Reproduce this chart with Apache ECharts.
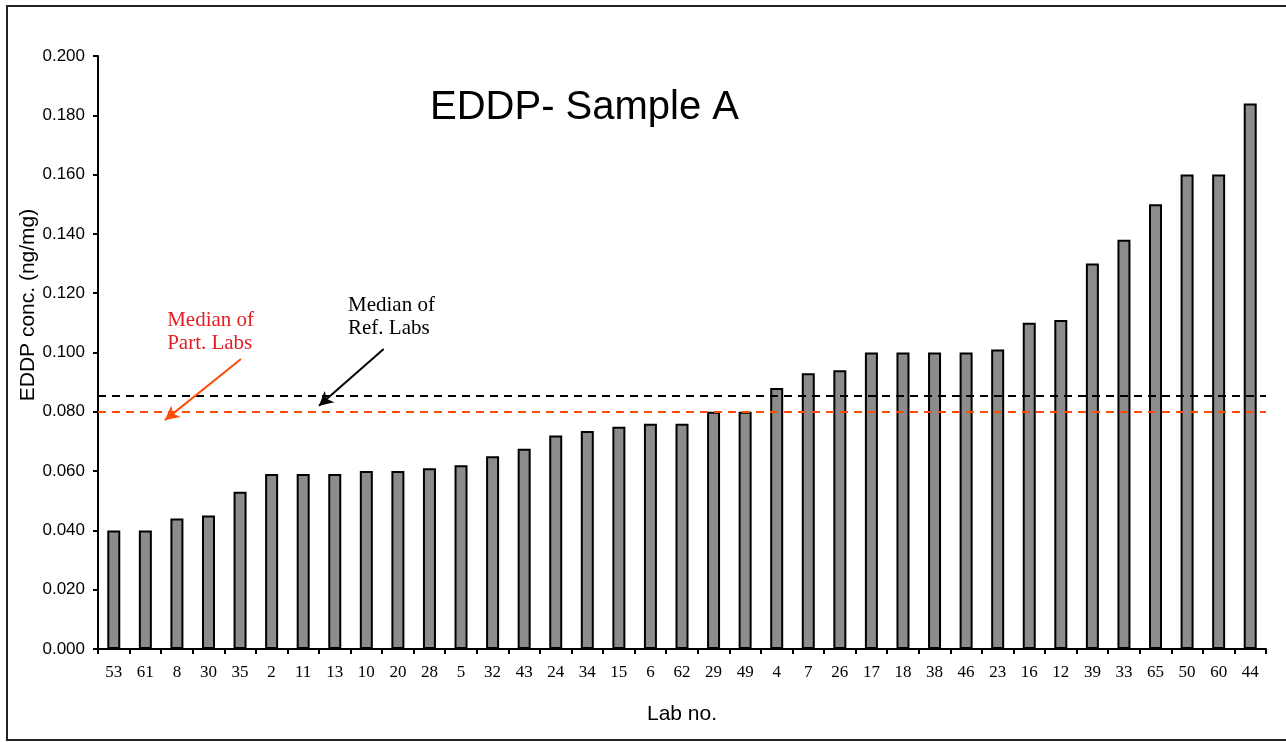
<!DOCTYPE html>
<html><head><meta charset="utf-8">
<script src="https://cdn.jsdelivr.net/npm/echarts@6/dist/echarts.min.js"></script>
<style>html,body{margin:0;padding:0;background:#fff}#c{width:1286px;height:742px}</style>
</head><body><div id="c"></div>
<script>
const labs = ['53','61','8','30','35','2','11','13','10','20','28','5','32','43','24','34','15','6','62','29','49','4','7','26','17','18','38','46','23','16','12','39','33','65','50','60','44'];
const values = [0.040,0.040,0.044,0.045,0.053,0.059,0.059,0.059,0.060,0.060,0.061,0.062,0.065,0.0675,0.072,0.0735,0.075,0.076,0.076,0.080,0.080,0.088,0.093,0.094,0.100,0.100,0.100,0.100,0.101,0.110,0.111,0.130,0.138,0.150,0.160,0.160,0.184];
const yTicks = {min:0, max:0.2, interval:0.02};
const medianRef = 0.0854;
const medianPart = 0.080;
// annotation anchors in data space [category position, value]
const partText = {text:'Median of\nPart. Labs', at:[1.69, 0.1147]};
const refText = {text:'Median of\nRef. Labs', at:[7.42, 0.1197]};
const partArrow = [[4.03, 0.0978],[1.62, 0.0772]];
const refArrow = [[8.55, 0.1012],[6.50, 0.0820]];

const chart = echarts.init(document.getElementById('c'));
const n = labs.length;
chart.setOption({
  animation:false,
  backgroundColor:'#fff',
  title:{text:'EDDP- Sample A', left:425, top:83,
    textStyle:{fontFamily:'Liberation Sans', fontSize:40, fontWeight:'normal', color:'#000'}},
  grid:{left:98, right:20, top:56, bottom:93, containLabel:false},
  xAxis:[{type:'category', data:labs, boundaryGap:true,
    axisLine:{lineStyle:{color:'#000', width:2}},
    axisTick:{show:true, length:5, lineStyle:{color:'#000', width:2}},
    axisLabel:{interval:0, margin:15, fontFamily:'Liberation Serif', fontSize:17, color:'#000'},
    name:'Lab no.', nameLocation:'middle', nameGap:55, nameMoveOverlap:false,
    nameTextStyle:{fontFamily:'Liberation Sans', fontSize:21, color:'#000'}},
   {type:'value', min:-0.5, max:n-0.5, show:false}],
  yAxis:{type:'value', min:yTicks.min, max:yTicks.max, interval:yTicks.interval,
    axisLine:{show:true, onZero:false, lineStyle:{color:'#000', width:2}},
    axisTick:{show:true, length:5, lineStyle:{color:'#000', width:2}},
    splitLine:{show:false},
    axisLabel:{margin:13, fontFamily:'Liberation Sans', fontSize:17, color:'#000', formatter:v=>v.toFixed(3)},
    name:'EDDP conc. (ng/mg)', nameLocation:'middle', nameGap:59, nameMoveOverlap:false,
    nameTextStyle:{fontFamily:'Liberation Sans', fontSize:21, color:'#000', padding:[0,0,0,95]}},
  series:[
    {type:'bar', data:values, barWidth:13,
     itemStyle:{color:'#8c8c8c', borderColor:'#000', borderWidth:2},
     markLine:{silent:true, precision:4, symbol:['none','none'], label:{show:false},
       data:[
         {yAxis:medianRef, lineStyle:{color:'#000', type:[8,6], width:2}},
         {yAxis:medianPart, lineStyle:{color:'#ff4d0a', type:[8,6], width:2}}
       ]}},
    {type:'line', xAxisIndex:1, data:[], silent:true,
     markLine:{silent:true, precision:4, symbol:['none','arrow'], symbolSize:[11,14], label:{show:false},
       data:[
         [{coord:partArrow[0], lineStyle:{color:'#ff4d0a', width:2, type:'solid'}, itemStyle:{color:'#ff4d0a'}},{coord:partArrow[1]}],
         [{coord:refArrow[0], lineStyle:{color:'#000', width:2, type:'solid'}, itemStyle:{color:'#000'}},{coord:refArrow[1]}]
       ]}}
  ]
});
function px(p){return chart.convertToPixel({xAxisIndex:1, yAxisIndex:0}, p);}
const pp = px(partText.at), rp = px(refText.at);
chart.setOption({graphic:[
  {type:'rect', shape:{x:7, y:6, width:1290, height:734}, style:{fill:'none', stroke:'#222', lineWidth:2}, silent:true},
  {type:'text', x:pp[0], y:pp[1], style:{text:partText.text, font:'21px "Liberation Serif"', lineHeight:23, fill:'#e31e24', textVerticalAlign:'top'}},
  {type:'text', x:rp[0], y:rp[1], style:{text:refText.text, font:'21px "Liberation Serif"', lineHeight:23, fill:'#000', textVerticalAlign:'top'}}
]});
</script></body></html>
